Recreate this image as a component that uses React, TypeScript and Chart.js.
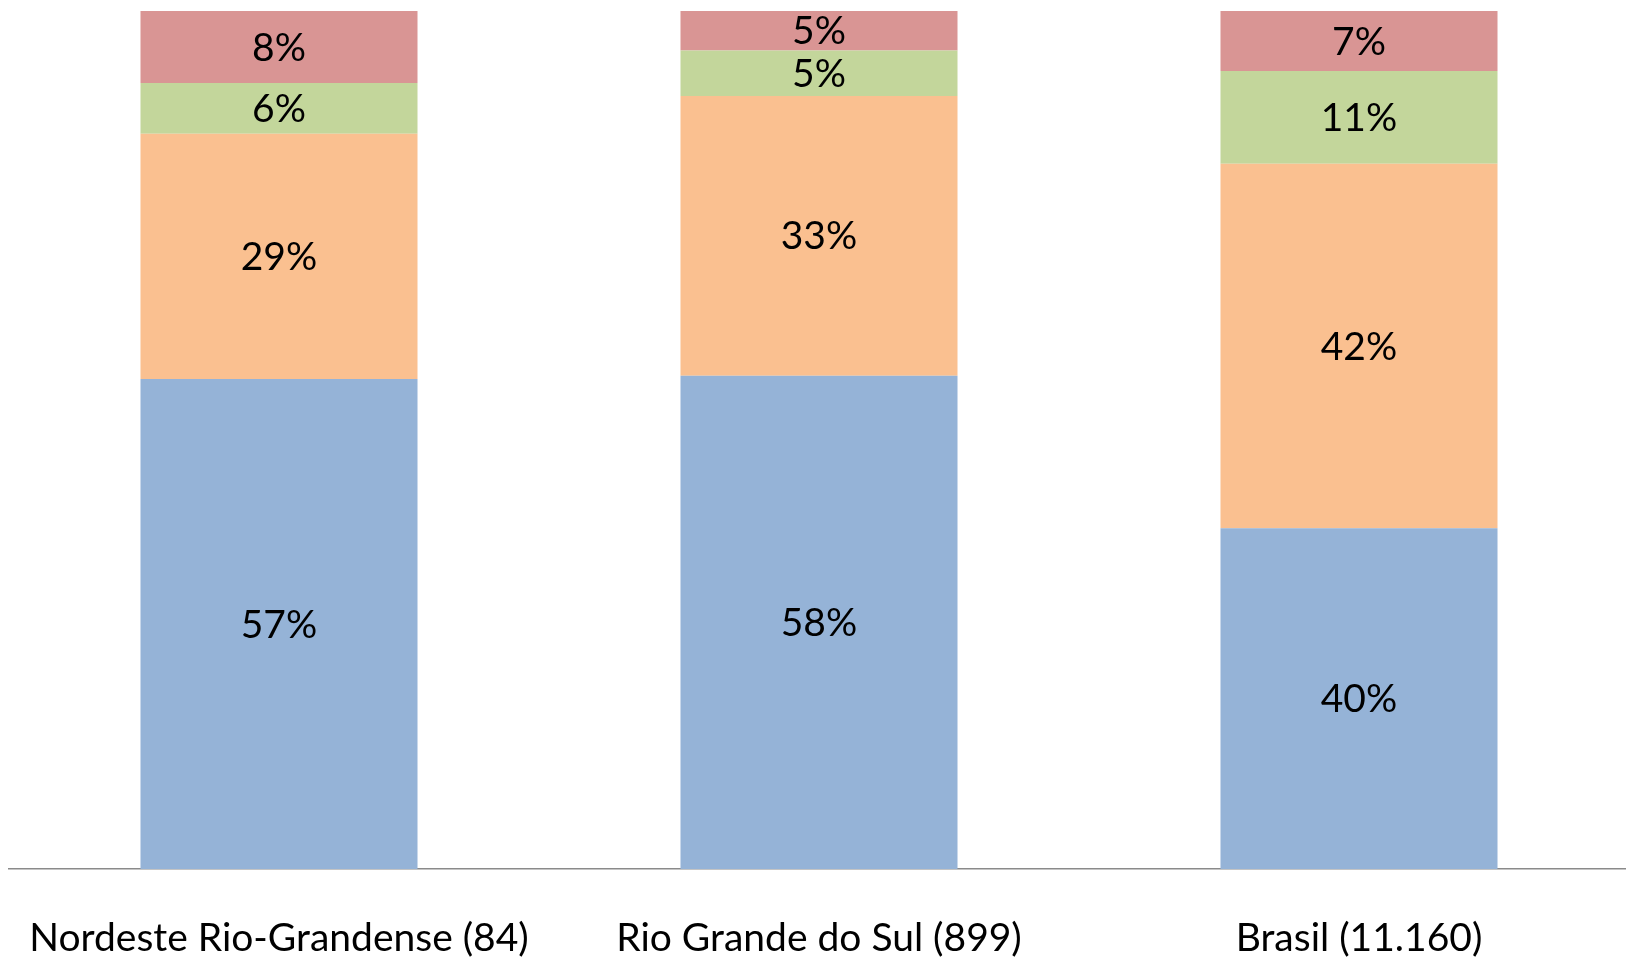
import React, { useEffect, useRef } from "react";
import { Chart, registerables } from "chart.js";

Chart.register(...registerables);

const categories = ["Nordeste Rio-Grandense (84)", "Rio Grande do Sul (899)", "Brasil (11.160)"];
const seriesBlue = [57.1, 57.5, 39.7];
const seriesOrange = [28.6, 32.6, 42.5];
const seriesGreen = [5.9, 5.3, 10.8];
const seriesRed = [8.4, 4.6, 7.0];
const labelsBlue = ["57%", "58%", "40%"];
const labelsOrange = ["29%", "33%", "42%"];
const labelsGreen = ["6%", "5%", "11%"];
const labelsRed = ["8%", "5%", "7%"];

const FONT = "Lato";
const FSIZE = 39;

const segmentLabels = {
  id: "segmentLabels",
  afterDatasetsDraw(chart: any) {
    const ctx = chart.ctx;
    ctx.save();
    ctx.fillStyle = "#000000";
    ctx.font = `${FSIZE}px ${FONT}`;
    ctx.textAlign = "center";
    ctx.textBaseline = "middle";
    chart.data.datasets.forEach((ds: any, di: number) => {
      const meta = chart.getDatasetMeta(di);
      meta.data.forEach((el: any, i: number) => {
        const { x, y, base } = el.getProps(["x", "y", "base"], true);
        ctx.fillText(ds.segLabels[i], x, (y + base) / 2 + 1);
      });
    });
    ctx.restore();
  },
};

export default function App() {
  const ref = useRef<HTMLCanvasElement | null>(null);
  useEffect(() => {
    if (!ref.current) return;
    const mk = (data: number[], color: string, segLabels: string[]) => ({
      data,
      backgroundColor: color,
      borderWidth: 0,
      barPercentage: 0.513,
      categoryPercentage: 1,
      segLabels,
    });
    const chart = new Chart(ref.current, {
      type: "bar",
      data: {
        labels: categories,
        datasets: [
          mk(seriesBlue, "#95B3D7", labelsBlue),
          mk(seriesOrange, "#FAC090", labelsOrange),
          mk(seriesGreen, "#C3D69B", labelsGreen),
          mk(seriesRed, "#D99594", labelsRed),
        ] as any,
      },
      options: {
        animation: false,
        responsive: false,
        layout: { padding: { top: 11, left: 1, right: 0, bottom: 0 } },
        plugins: { legend: { display: false }, tooltip: { enabled: false } },
        scales: {
          x: {
            stacked: true,
            grid: { display: false, drawTicks: false },
            border: { display: true, color: "#8a8a8a", width: 1.5 },
            ticks: {
              color: "#000000",
              padding: 50,
              font: { family: FONT, size: FSIZE, lineHeight: 1.0 },
              maxRotation: 0,
              autoSkip: false,
            },
            afterFit: (scale: any) => {
              scale.paddingLeft = 0;
              scale.paddingRight = 0;
              scale.height = 90;
            },
          },
          y: {
            stacked: true,
            display: false,
            min: 0,
            max: 100,
          },
        },
      },
      plugins: [segmentLabels],
    });
    return () => chart.destroy();
  }, []);
  return (
    <div style={{ position: "absolute", left: 8, top: 0, width: 1618, height: 959, overflow: "hidden" }}>
      <canvas ref={ref} width={1621} height={959} style={{ display: "block" }} />
    </div>
  );
}
